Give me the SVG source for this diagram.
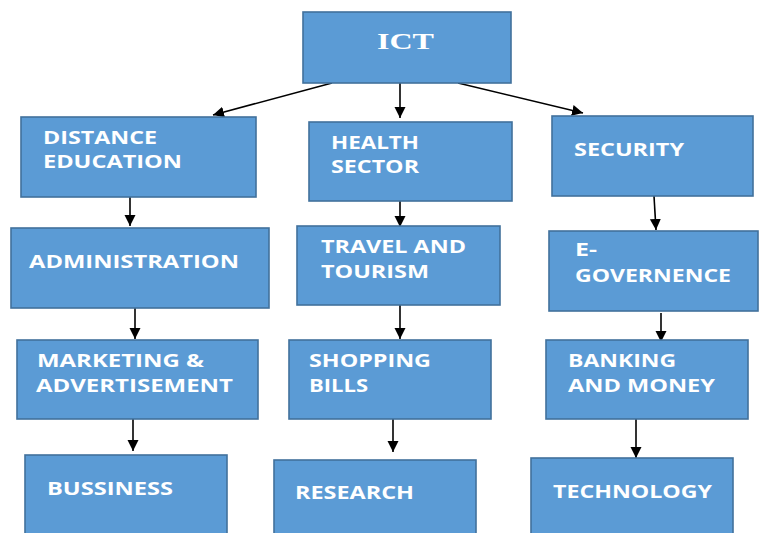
<svg xmlns="http://www.w3.org/2000/svg" width="759" height="533" viewBox="0 0 759 533">
<defs>
<marker id="ah" markerUnits="userSpaceOnUse" markerWidth="12" markerHeight="12" refX="11" refY="6" orient="auto">
<path d="M0,0.5 L11,6 L0,11.5 Z" fill="#000"/>
</marker>
<style>
.box{fill:#5B9BD5;stroke:#41719C;stroke-width:1.6}
.t{fill:#fff;font-family:"Open Sans","Liberation Sans",sans-serif;font-weight:bold;font-size:18px}
.ict{fill:#fff;font-family:"Liberation Serif",serif;font-weight:bold;font-size:23px}
.c{stroke:#000;stroke-width:1.6;fill:none;marker-end:url(#ah)}
</style>
</defs>
<rect width="759" height="533" fill="#fff"/>
<g id="connectors">
<line class="c" x1="332" y1="83" x2="213" y2="115"/>
<line class="c" x1="400" y1="83" x2="400" y2="118"/>
<line class="c" x1="458" y1="83" x2="583" y2="113"/>
<line class="c" x1="130" y1="197" x2="130" y2="226"/>
<line class="c" x1="135" y1="308" x2="135" y2="339"/>
<line class="c" x1="133" y1="419" x2="133" y2="451"/>
<line class="c" x1="400" y1="201" x2="400" y2="227"/>
<line class="c" x1="400" y1="305" x2="400" y2="339"/>
<line class="c" x1="393" y1="419" x2="393" y2="452"/>
<line class="c" x1="654" y1="196" x2="656" y2="230"/>
<line class="c" x1="661" y1="313" x2="661" y2="342"/>
<line class="c" x1="636" y1="419" x2="636" y2="458"/>
</g>
<g id="ict">
<rect class="box" x="303" y="12" width="208" height="71"/>
<text class="ict" x="377" y="48.5" textLength="57" lengthAdjust="spacingAndGlyphs">ICT</text>
</g>
<g id="distance-education">
<rect class="box" x="21" y="117" width="235" height="80"/>
<text class="t" x="43" y="144" textLength="114" lengthAdjust="spacingAndGlyphs">DISTANCE</text>
<text class="t" x="43" y="168" textLength="139" lengthAdjust="spacingAndGlyphs">EDUCATION</text>
</g>
<g id="health-sector">
<rect class="box" x="309" y="122" width="203" height="79"/>
<text class="t" x="331" y="149" textLength="88" lengthAdjust="spacingAndGlyphs">HEALTH</text>
<text class="t" x="331" y="173" textLength="88" lengthAdjust="spacingAndGlyphs">SECTOR</text>
</g>
<g id="security">
<rect class="box" x="552" y="116" width="201" height="80"/>
<text class="t" x="574" y="156" textLength="110" lengthAdjust="spacingAndGlyphs">SECURITY</text>
</g>
<g id="administration">
<rect class="box" x="11" y="228" width="258" height="80"/>
<text class="t" x="29" y="268" textLength="210" lengthAdjust="spacingAndGlyphs">ADMINISTRATION</text>
</g>
<g id="travel-tourism">
<rect class="box" x="297" y="226" width="203" height="79"/>
<text class="t" x="321" y="253" textLength="145" lengthAdjust="spacingAndGlyphs">TRAVEL AND</text>
<text class="t" x="321" y="277.5" textLength="108" lengthAdjust="spacingAndGlyphs">TOURISM</text>
</g>
<g id="e-governence">
<rect class="box" x="549" y="231" width="209" height="80"/>
<text class="t" x="575" y="256" textLength="22" lengthAdjust="spacingAndGlyphs">E-</text>
<text class="t" x="575" y="281.5" textLength="156" lengthAdjust="spacingAndGlyphs">GOVERNENCE</text>
</g>
<g id="marketing">
<rect class="box" x="17" y="340" width="241" height="79"/>
<text class="t" x="37" y="366.5" textLength="167" lengthAdjust="spacingAndGlyphs">MARKETING &amp;</text>
<text class="t" x="36" y="392" textLength="197" lengthAdjust="spacingAndGlyphs">ADVERTISEMENT</text>
</g>
<g id="shopping-bills">
<rect class="box" x="289" y="340" width="202" height="79"/>
<text class="t" x="309" y="366.5" textLength="122" lengthAdjust="spacingAndGlyphs">SHOPPING</text>
<text class="t" x="309" y="392" textLength="59" lengthAdjust="spacingAndGlyphs">BILLS</text>
</g>
<g id="banking-money">
<rect class="box" x="546" y="340" width="202" height="79"/>
<text class="t" x="568" y="366.5" textLength="108" lengthAdjust="spacingAndGlyphs">BANKING</text>
<text class="t" x="568" y="391.5" textLength="147" lengthAdjust="spacingAndGlyphs">AND MONEY</text>
</g>
<g id="bussiness">
<rect class="box" x="25" y="455" width="202" height="90"/>
<text class="t" x="47" y="495" textLength="126" lengthAdjust="spacingAndGlyphs">BUSSINESS</text>
</g>
<g id="research">
<rect class="box" x="274" y="460" width="202" height="85"/>
<text class="t" x="295" y="499" textLength="119" lengthAdjust="spacingAndGlyphs">RESEARCH</text>
</g>
<g id="technology">
<rect class="box" x="531" y="458" width="202" height="87"/>
<text class="t" x="553" y="498" textLength="159" lengthAdjust="spacingAndGlyphs">TECHNOLOGY</text>
</g>
</svg>
